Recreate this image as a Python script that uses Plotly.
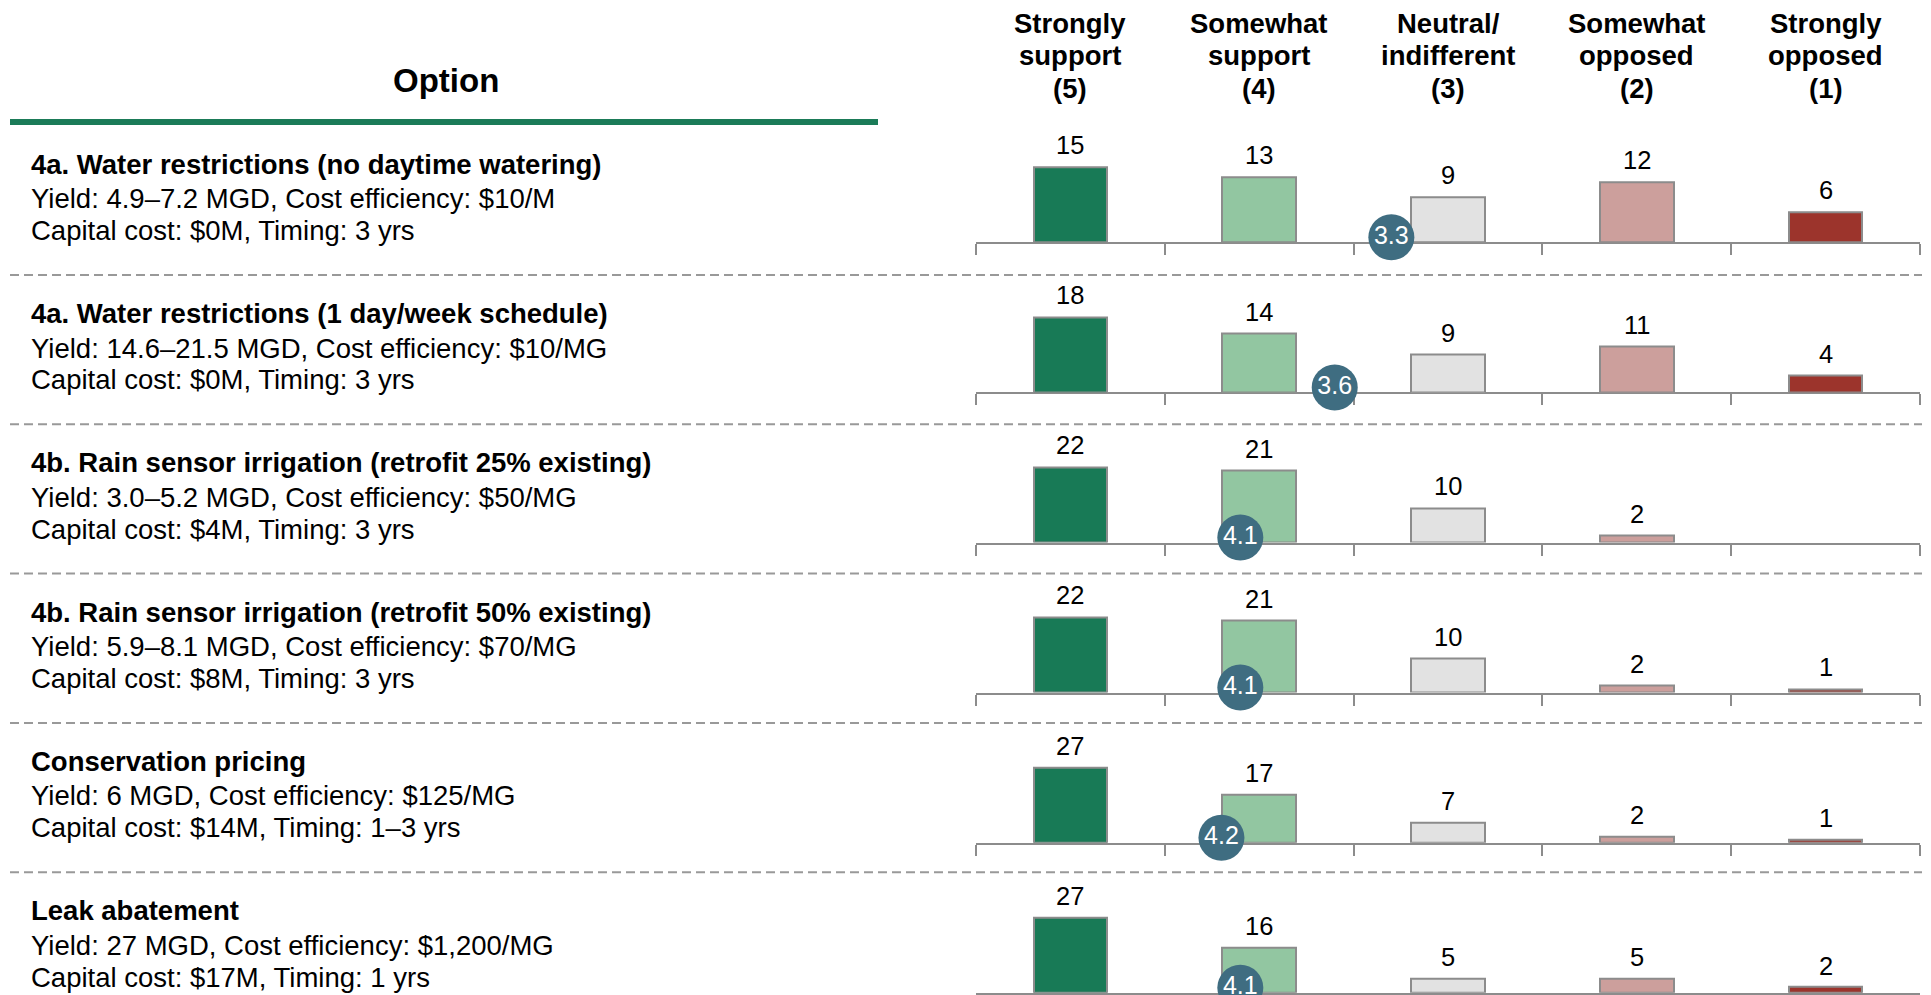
import plotly.graph_objects as go

W, H = 1931, 995

# ---------------- data ----------------
header_line1 = ["Strongly", "Somewhat", "Neutral/", "Somewhat", "Strongly"]
header_line2 = ["support", "support", "indifferent", "opposed", "opposed"]
header_line3 = ["(5)", "(4)", "(3)", "(2)", "(1)"]
scores = [5, 4, 3, 2, 1]

option_titles = [
    "4a. Water restrictions (no daytime watering)",
    "4a. Water restrictions (1 day/week schedule)",
    "4b. Rain sensor irrigation (retrofit 25% existing)",
    "4b. Rain sensor irrigation (retrofit 50% existing)",
    "Conservation pricing",
    "Leak abatement",
]
option_yield = [
    "Yield: 4.9–7.2 MGD, Cost efficiency: $10/M",
    "Yield: 14.6–21.5 MGD, Cost efficiency: $10/MG",
    "Yield: 3.0–5.2 MGD, Cost efficiency: $50/MG",
    "Yield: 5.9–8.1 MGD, Cost efficiency: $70/MG",
    "Yield: 6 MGD, Cost efficiency: $125/MG",
    "Yield: 27 MGD, Cost efficiency: $1,200/MG",
]
option_capital = [
    "Capital cost: $0M, Timing: 3 yrs",
    "Capital cost: $0M, Timing: 3 yrs",
    "Capital cost: $4M, Timing: 3 yrs",
    "Capital cost: $8M, Timing: 3 yrs",
    "Capital cost: $14M, Timing: 1–3 yrs",
    "Capital cost: $17M, Timing: 1 yrs",
]

strongly_support = [15, 18, 22, 22, 27, 27]
somewhat_support = [13, 14, 21, 21, 17, 16]
neutral = [9, 9, 10, 10, 7, 5]
somewhat_opposed = [12, 11, 2, 2, 2, 5]
strongly_opposed = [6, 4, 0, 1, 1, 2]
mean_scores = [3.3, 3.6, 4.1, 4.1, 4.2, 4.1]

# ---------------- styles ----------------
bar_colors = ["#187a56", "#92c6a1", "#e2e2e2", "#cc9f9c", "#9c342c"]
circle_color = "#3f6d81"
grey = "#8c8c8c"
FONT = "Arial, Liberation Sans, sans-serif"

OFF = 8                     # page body margin
X0, X1 = 976 - OFF, 1920 - OFF
PANEL_H = 100
MAX_BAR_PX = 75.5
baselines = [242.3 - OFF + 150.1 * i for i in range(6)]
title_y = [164.2 - OFF + 149.3 * i for i in range(6)]
dash_y = [275 - OFF + 149.3 * i for i in range(5)]


def py(px):
    return (H - px) / H


fig = go.Figure()
annotations = []
shapes = []

for i in range(6):
    vals = [strongly_support[i], somewhat_support[i], neutral[i],
            somewhat_opposed[i], strongly_opposed[i]]
    ymax = max(vals) * PANEL_H / MAX_BAR_PX
    xa = "x" if i == 0 else f"x{i+1}"
    ya = "y" if i == 0 else f"y{i+1}"
    fig.add_trace(go.Bar(
        x=scores, y=vals, width=0.39,
        marker=dict(color=bar_colors,
                    line=dict(color=grey, width=[2 if v > 0 else 0 for v in vals])),
        xaxis=xa, yaxis=ya, showlegend=False, hoverinfo="skip",
    ))
    fig.add_trace(go.Scatter(
        x=[mean_scores[i]], y=[5 * ymax / PANEL_H],
        mode="markers+text", text=[f"{mean_scores[i]:.1f}"],
        textposition="middle center",
        textfont=dict(color="white", size=25, family=FONT),
        marker=dict(size=46, color=circle_color, line=dict(width=0)),
        cliponaxis=False, xaxis=xa, yaxis=ya, showlegend=False, hoverinfo="skip",
    ))
    for s, v in zip(scores, vals):
        if v > 0:
            annotations.append(dict(
                x=s, y=v, xref=xa, yref=ya, text=str(v), showarrow=False,
                yanchor="middle", xanchor="center", yshift=21.7,
                font=dict(size=25.5, color="black", family=FONT),
            ))
    b = baselines[i]
    dom = [py(b), py(b - PANEL_H)]
    axkey = "xaxis" if i == 0 else f"xaxis{i+1}"
    aykey = "yaxis" if i == 0 else f"yaxis{i+1}"
    fig.update_layout(**{
        axkey: dict(domain=[X0 / W, X1 / W], anchor=ya, range=[5.5, 0.5],
                    showline=True, linecolor=grey, linewidth=2,
                    ticks="outside", tickvals=[5.5, 4.5, 3.5, 2.5, 1.5, 0.5],
                    ticklen=11, tickwidth=2, tickcolor=grey,
                    showticklabels=False, showgrid=False, zeroline=False,
                    layer="below traces", fixedrange=True),
        aykey: dict(domain=dom, anchor=xa, range=[0, ymax], visible=False,
                    showgrid=False, zeroline=False, fixedrange=True),
    })
    for txt, dy, bold in [(option_titles[i], 0, True),
                          (option_yield[i], 34.5, False),
                          (option_capital[i], 66.3, False)]:
        annotations.append(dict(
            x=21 / W, y=py(title_y[i] + dy), xref="paper", yref="paper",
            text=f"<b>{txt}</b>" if bold else txt, showarrow=False,
            xanchor="left", yanchor="middle",
            font=dict(size=27.5, color="black", family=FONT),
        ))

# column headers (positioned on the first row's x axis)
for s, l1, l2, l3 in zip(scores, header_line1, header_line2, header_line3):
    for txt, yy in [(l1, 23.3), (l2, 55.5), (l3, 88)]:
        annotations.append(dict(
            x=s, y=py(yy - OFF), xref="x", yref="paper", text=f"<b>{txt}</b>",
            showarrow=False, xanchor="center", yanchor="middle",
            font=dict(size=27.5, color="black", family=FONT),
        ))

annotations.append(dict(
    x=(446 - OFF) / W, y=py(80.8 - OFF), xref="paper", yref="paper",
    text="<b>Option</b>", showarrow=False, xanchor="center", yanchor="middle",
    font=dict(size=33, color="black", family=FONT),
))

shapes.append(dict(type="line", xref="paper", yref="paper",
                   x0=(10 - OFF) / W, x1=(878 - OFF) / W,
                   y0=py(122 - OFF), y1=py(122 - OFF),
                   line=dict(color="#1b7b58", width=6)))
for yd in dash_y:
    shapes.append(dict(type="line", xref="paper", yref="paper",
                       x0=(10 - OFF) / W, x1=(1922 - OFF) / W, y0=py(yd), y1=py(yd),
                       line=dict(color="#999999", width=2, dash="9px,5px")))

fig.update_layout(
    width=W, height=H, margin=dict(l=0, r=0, t=0, b=0),
    paper_bgcolor="white", plot_bgcolor="white",
    annotations=annotations, shapes=shapes, bargap=0,
    font=dict(family=FONT),
)

fig.write_html("out.html", config={"displayModeBar": False})
